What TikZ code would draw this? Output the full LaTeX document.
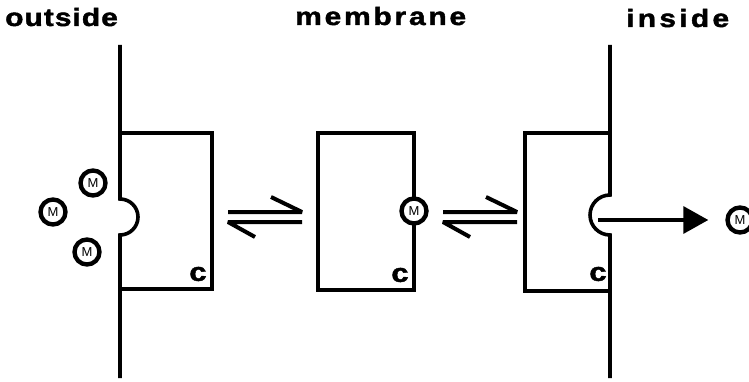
\documentclass[tikz,border=0pt]{standalone}
\usepackage{fontspec}
\setmainfont{Liberation Sans}
\newfontfamily\outfont[LetterSpace=4,FakeBold=1.6,FakeStretch=1.2]{Liberation Sans Bold}
\newfontfamily\memfont[LetterSpace=11,FakeBold=1.6,FakeStretch=1.2]{Liberation Sans Bold}
\newfontfamily\infont[LetterSpace=13,FakeBold=1.6,FakeStretch=1.2]{Liberation Sans Bold}
\newfontfamily\heavyfont[FakeBold=1.6,FakeStretch=1.2]{Liberation Sans Bold}
\newfontfamily\molfont{Liberation Sans}
\usetikzlibrary{arrows.meta}
\tikzset{
  wall/.style={line width=3.6pt},
  carrier/.style={line width=3.1pt, line join=miter},
  mol/.style={circle, draw, fill=white, line width=4.4pt, minimum size=25pt,
    inner sep=0pt, font=\molfont\fontsize{13}{13}\selectfont},
  clab/.style={inner sep=0pt, font=\heavyfont\fontsize{26}{26}\selectfont},
  title/.style={anchor=base west, inner sep=0pt},
  harp/.style={line width=4pt, line join=bevel},
  eqm/.pic={
    \draw[harp] (-37,-5) -- (37,-5) -- (6,-20);
    \draw[harp] (37,5) -- (-37,5) -- (-10,20);
  },
  transport/.style={line width=3.4pt, -{Triangle[length=25pt,width=27pt]}}
}
\begin{document}
\begin{tikzpicture}[x=1pt,y=-1pt]
\useasboundingbox (0,0) rectangle (749,382);

% headings
\node[title] (hout) at (5,26) {\outfont\fontsize{25}{25}\selectfont outside};
\node[title] (hmem) at (295,25) {\memfont\fontsize{25}{25}\selectfont membrane};
\node[title] (hin) at (626,27) {\infont\fontsize{25}{25}\selectfont inside};

% carrier facing the outside: pocket open to the left
\draw[wall] (120,45) -- (120,199) arc[start angle=-90, end angle=90, radius=18] -- (120,378);
\draw[carrier] (120,133) -- (212,133) -- (212,289) -- (120,289);
\node[clab] (c1) at (198,274) {c};
\node[mol] (m1) at (93,183) {M};
\node[mol] (m2) at (53,212) {M};
\node[mol] (m3) at (87,252) {M};

% carrier in the membrane, M bound
\draw[carrier] (318,133) rectangle (414,290);
\node[clab] (c2) at (400,275) {c};
\node[mol] (mb) at (414,211) {M};

% carrier facing the inside: pocket open to the right
\draw[wall] (610,45) -- (610,195) arc[start angle=-90, end angle=-270, radius=20] -- (610,378);
\draw[carrier] (610,133) -- (525,133) -- (525,291) -- (610,291);
\node[clab] (c3) at (598,274) {c};

% equilibria between the states
\pic at (265,217) {eqm};
\pic at (480,217) {eqm};

% release of M to the inside
\coordinate (pk) at (598,220);
\node[mol] (m4) at (740,220) {M};
\draw[transport, shorten >=17pt] (pk) -- (m4.west);
\end{tikzpicture}
\end{document}
